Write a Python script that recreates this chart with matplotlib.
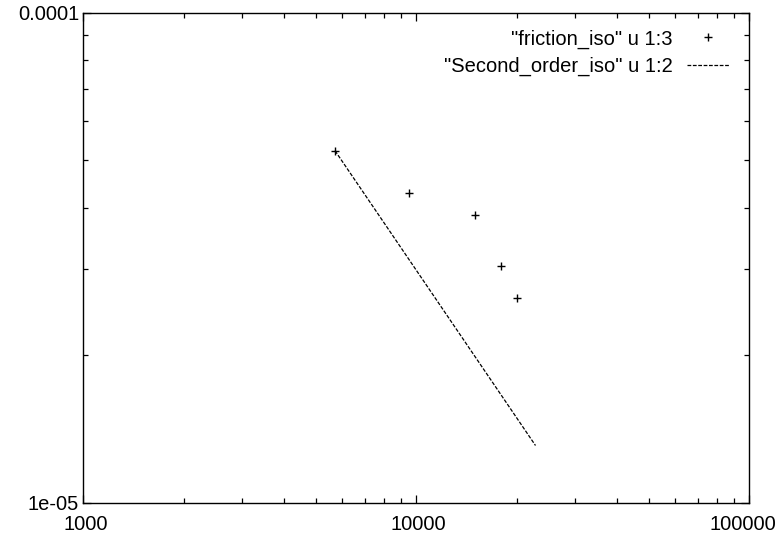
import matplotlib
matplotlib.use("Agg")
import matplotlib.pyplot as plt
import matplotlib.transforms as mtransforms
from matplotlib.ticker import LogLocator, FixedLocator, FixedFormatter, NullFormatter

plt.rcParams['font.family'] = ['Liberation Sans', 'DejaVu Sans']

# Data
friction_x = [5700, 9500, 15000, 18000, 20000]
friction_y = [5.23e-5, 4.28e-5, 3.86e-5, 3.05e-5, 2.62e-5]
second_x = [5700, 22800]
second_y = [5.23e-5, 1.31e-5]

xticks = [1000, 10000, 100000]
xtick_labels = ["1000", "10000", "100000"]
yticks = [1e-5, 1e-4]
ytick_labels = ["1e-05", "0.0001"]

label_friction = '"friction_iso" u 1:3'
label_second = '"Second_order_iso" u 1:2'

fig = plt.figure(figsize=(7.8, 5.36), dpi=100)
ax = fig.add_axes([83.3/780, (536-503)/536, (749.3-83.3)/780, (503-12.7)/536])

ax.plot(friction_x, friction_y, linestyle='none', marker='+', color='black',
        markersize=5.5, markeredgewidth=1.0, label=label_friction)
ax.plot(second_x, second_y, linestyle=(0, (3, 1.3)), color='black',
        linewidth=0.9, label=label_second)

ax.set_xscale('log')
ax.set_yscale('log')
ax.set_xlim(1000, 100000)
ax.set_ylim(1e-5, 1e-4)

ax.xaxis.set_major_locator(FixedLocator(xticks))
ax.xaxis.set_major_formatter(FixedFormatter(xtick_labels))
ax.yaxis.set_major_locator(FixedLocator(yticks))
ax.yaxis.set_major_formatter(FixedFormatter(ytick_labels))
ax.xaxis.set_minor_locator(LogLocator(base=10, subs=range(2, 10)))
ax.yaxis.set_minor_locator(LogLocator(base=10, subs=range(2, 10)))
ax.xaxis.set_minor_formatter(NullFormatter())
ax.yaxis.set_minor_formatter(NullFormatter())

ax.tick_params(which='both', direction='in', top=True, right=True,
               colors='black', labelsize=14.5, width=0.9)
ax.tick_params(which='major', length=6)
ax.tick_params(which='minor', length=3.5)
ax.tick_params(axis='x', which='major', pad=9)
ax.tick_params(axis='y', which='major', pad=3)
for s in ax.spines.values():
    s.set_linewidth(1.0)
    s.set_color('black')

fig.canvas.draw()
shifts = [2.5, 2.5, -6]
for lbl, dx in zip(ax.get_xticklabels(), shifts):
    lbl.set_transform(lbl.get_transform() +
                      mtransforms.ScaledTranslation(dx/100, 0, fig.dpi_scale_trans))

leg = ax.legend(loc='upper right', bbox_to_anchor=(0.97, 0.966), frameon=False,
                markerfirst=False, fontsize=14.5, handlelength=2.1,
                handletextpad=0.7, labelspacing=0.42, borderpad=0, borderaxespad=0)
leg._legend_handle_box.align = "right"
for child in leg._legend_handle_box.get_children():
    child.align = "right"

fig.savefig("out.png", dpi=100)
